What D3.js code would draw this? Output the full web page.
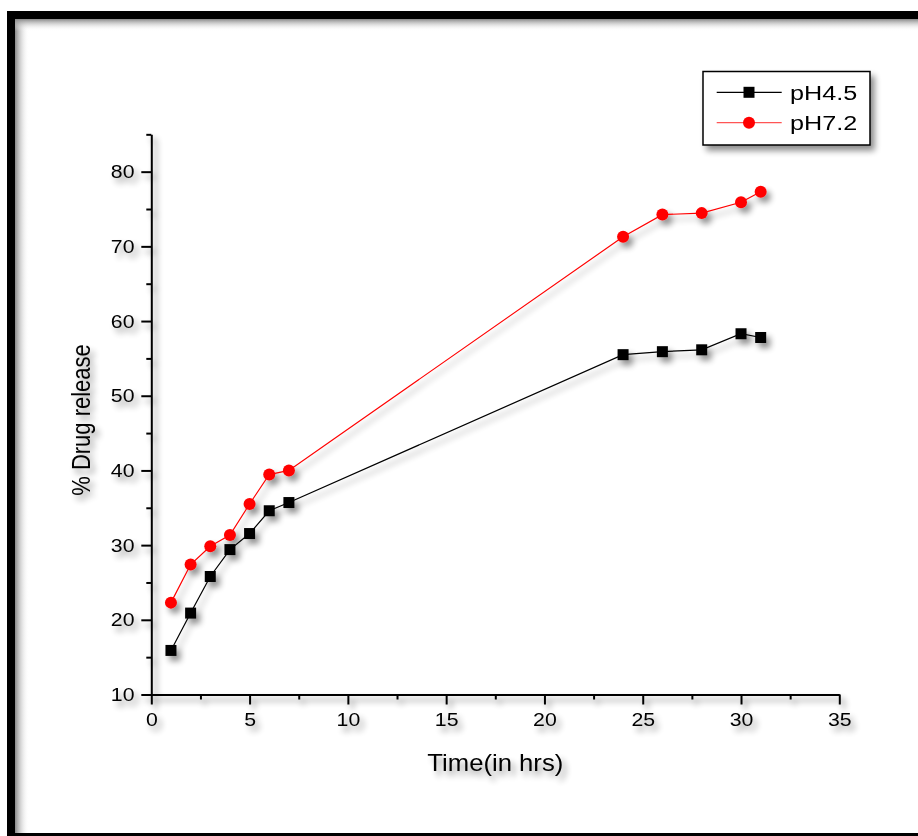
<!DOCTYPE html>
<html><head><meta charset="utf-8">
<script src="https://cdn.jsdelivr.net/npm/d3@7"></script>
<style>
body{margin:0;background:#fff}
svg{display:block}
text{font-family:"Liberation Sans",Arial,Helvetica,sans-serif;fill:#000}
</style>
</head><body>
<svg id="chart" width="918" height="836"></svg>
<script>
// Release time points (hours) and cumulative % drug release at each pH
const hours = [1, 2, 3, 4, 5, 6, 7, 24, 26, 28, 30, 31];
const releasePH45 = [15.9, 20.9, 25.8, 29.4, 31.55, 34.6, 35.7, 55.5, 55.9, 56.15, 58.3, 57.8];
const releasePH72 = [22.3, 27.4, 29.85, 31.35, 35.5, 39.45, 40.0, 71.3, 74.25, 74.45, 75.9, 77.3];
const seriesNames = ["pH4.5", "pH7.2"];
const xTicks = [0, 5, 10, 15, 20, 25, 30, 35];
const xMinorTicks = [2.5, 7.5, 12.5, 17.5, 22.5, 27.5, 32.5];
const yTicks = [10, 20, 30, 40, 50, 60, 70, 80];
const yMinorTicks = [15, 25, 35, 45, 55, 65, 75, 85];
const xTitle = "Time(in hrs)";
const yTitle = "% Drug release";

const svg = d3.select("#chart");
const W = 918, H = 836;

// ---- defs: soft drop shadow + inner frame gradients
const defs = svg.append("defs");
const f = defs.append("filter").attr("id", "shadow")
  .attr("x", "-20%").attr("y", "-20%").attr("width", "140%").attr("height", "140%");
f.append("feGaussianBlur").attr("in", "SourceAlpha").attr("stdDeviation", 3).attr("result", "b");
f.append("feOffset").attr("in", "b").attr("dx", 4).attr("dy", 5).attr("result", "o");
f.append("feComponentTransfer").attr("in", "o").attr("result", "s")
  .append("feFuncA").attr("type", "linear").attr("slope", 0.45);
const m = f.append("feMerge");
m.append("feMergeNode").attr("in", "s");
m.append("feMergeNode").attr("in", "SourceGraphic");

const gl = defs.append("linearGradient").attr("id", "gLeft").attr("x1", 0).attr("x2", 1).attr("y1", 0).attr("y2", 0);
gl.append("stop").attr("offset", 0).attr("stop-color", "#888");
gl.append("stop").attr("offset", 1).attr("stop-color", "#fff").attr("stop-opacity", 0);
const gt = defs.append("linearGradient").attr("id", "gTop").attr("x1", 0).attr("x2", 0).attr("y1", 0).attr("y2", 1);
gt.append("stop").attr("offset", 0).attr("stop-color", "#888");
gt.append("stop").attr("offset", 1).attr("stop-color", "#fff").attr("stop-opacity", 0);

// ---- outer frame
svg.append("rect").attr("x", 7).attr("y", 11).attr("width", W).attr("height", H).attr("fill", "#000");
svg.append("rect").attr("x", 15).attr("y", 19).attr("width", W).attr("height", 833 - 19).attr("fill", "#fff");
svg.append("rect").attr("x", 15).attr("y", 19).attr("width", 14).attr("height", 833 - 19).attr("fill", "url(#gLeft)");
svg.append("rect").attr("x", 15).attr("y", 19).attr("width", W).attr("height", 12).attr("fill", "url(#gTop)");

// ---- scales
const x = d3.scaleLinear().domain([0, 35]).range([151.3, 839.3]);
const y = d3.scaleLinear().domain([10, 85]).range([694.5, 694.5 - 75 * 7.469]);

const plot = svg.append("g").attr("filter", "url(#shadow)");

// ---- axes
const SX = 1.12;
const gx = plot.append("g").attr("transform", `translate(0,${y(10)})`)
  .call(d3.axisBottom(x).tickValues(xTicks).tickSize(10).tickPadding(8).tickSizeOuter(0));
gx.append("g").call(d3.axisBottom(x).tickValues(xMinorTicks).tickSize(5).tickFormat(""));
const gy = plot.append("g").attr("transform", `translate(${x(0)},0)`)
  .call(d3.axisLeft(y).tickValues(yTicks).tickSize(10).tickPadding(5).tickSizeOuter(0));
gy.append("g").call(d3.axisLeft(y).tickValues(yMinorTicks).tickSize(5).tickFormat(""));

[gx, gy].forEach(g => {
  g.selectAll(".domain").attr("stroke", "#000").attr("stroke-width", 2);
  g.selectAll(".tick line").attr("stroke", "#000").attr("stroke-width", 2);
  g.selectAll("path.domain").filter(function () { return this.parentNode !== g.node(); }).remove();
  g.selectAll("text").attr("font-size", 19).attr("font-family", null).attr("fill", "#000")
    .attr("transform", `scale(${SX},1)`);
});

// ---- axis titles
plot.append("text").attr("transform", `translate(${(x(0) + x(35)) / 2 + 0},771) scale(1.07,1)`)
  .attr("text-anchor", "middle").attr("font-size", 24).text(xTitle);
plot.append("text").attr("transform", `translate(89.5,420) rotate(-90) scale(1,1.16)`)
  .attr("text-anchor", "middle").attr("font-size", 22).text(yTitle);

// ---- series
const series = [
  { name: seriesNames[0], values: releasePH45, color: "#000", legendColor: "#000", shape: "square" },
  { name: seriesNames[1], values: releasePH72, color: "#ff0000", legendColor: "#ff5555", shape: "circle" }
];
const line = d3.line().x(d => x(d[0])).y(d => y(d[1]));
const sym = {
  square: d3.symbol().type(d3.symbolSquare).size(121),
  circle: d3.symbol().type(d3.symbolCircle).size(Math.PI * 36)
};

series.forEach(s => {
  const pts = hours.map((h, i) => [h, s.values[i]]);
  plot.append("path").datum(pts).attr("d", line)
    .attr("fill", "none").attr("stroke", s.color).attr("stroke-width", 1.2);
  plot.append("g").selectAll("path").data(pts).join("path")
    .attr("transform", d => `translate(${x(d[0])},${y(d[1])})`)
    .attr("d", sym[s.shape]()).attr("fill", s.color);
});

// ---- legend
const lg = plot.append("g");
lg.append("rect").attr("x", 703).attr("y", 71.5).attr("width", 167).attr("height", 73.5)
  .attr("fill", "#fff").attr("stroke", "#000").attr("stroke-width", 1.5);
series.forEach((s, i) => {
  const ly = 92.3 + i * 30.4;
  lg.append("line").attr("x1", 716.7).attr("x2", 781.7).attr("y1", ly).attr("y2", ly)
    .attr("stroke", s.legendColor).attr("stroke-width", 1.2);
  lg.append("path").attr("transform", `translate(749,${ly})`).attr("d", sym[s.shape]()).attr("fill", s.color);
  lg.append("text").attr("transform", `translate(790,${ly + 7.5}) scale(1.2,1)`)
    .attr("font-size", 21).text(s.name);
});
</script>
</body></html>
